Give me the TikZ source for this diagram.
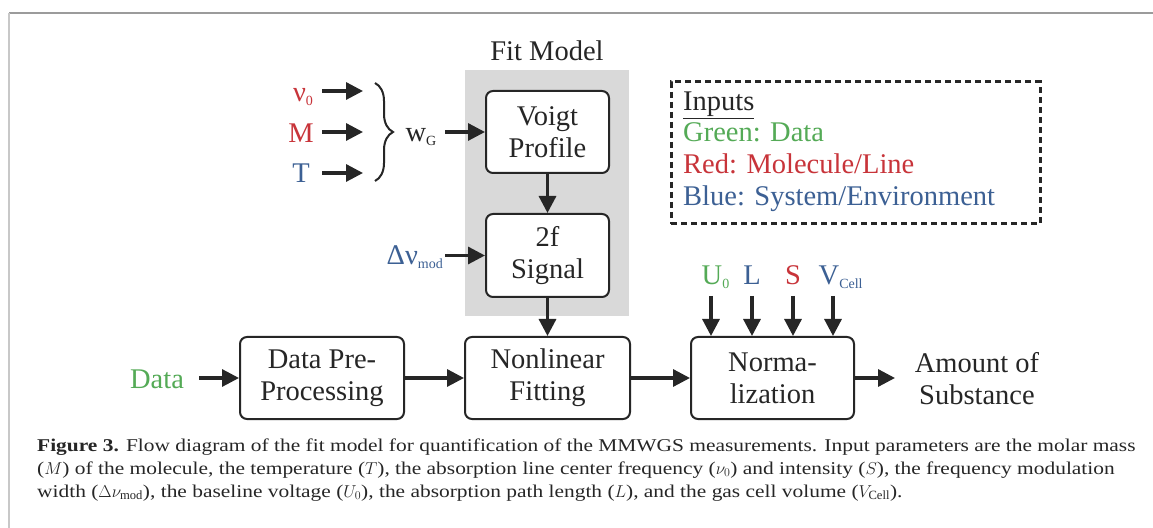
\documentclass[tikz,border=0pt]{standalone}
\usepackage{fontspec}
\setmainfont{Liberation Serif}
\newfontfamily\capfont[FakeStretch=1.19]{Liberation Serif}
\usetikzlibrary{arrows.meta,decorations.pathreplacing}
\definecolor{cgreen}{RGB}{84,170,86}
\definecolor{cred}{RGB}{200,52,58}
\definecolor{cblue}{RGB}{60,96,148}
\definecolor{ink}{RGB}{38,38,38}
\definecolor{fitgray}{RGB}{217,217,217}
\definecolor{frametop}{RGB}{155,155,155}
\definecolor{frameleft}{RGB}{200,200,200}
\newcommand{\lsub}[1]{\raisebox{-4bp}{\fontsize{14bp}{14bp}\selectfont #1}}
\tikzset{
  box/.style={draw=ink, line width=2bp, rounded corners=7bp, fill=white, align=center,
    font=\fontsize{28.5bp}{32bp}\selectfont, text=ink, inner sep=0pt},
  arr/.style={draw=ink, line width=3.2bp, -{Triangle[length=17bp,width=17bp]}},
  lbl/.style={font=\fontsize{28.5bp}{32bp}\selectfont, inner sep=0pt, text=ink},
  capt/.style={font=\capfont\fontsize{18bp}{23bp}\selectfont, inner sep=0pt, text=ink},
}
\begin{document}
\begin{tikzpicture}[x=1bp,y=-1bp]
\useasboundingbox (0,0) rectangle (1153,528);
\fill[white] (0,0) rectangle (1153,528);
% frame
\draw[frametop, line width=1.5bp] (9,13) -- (1153,13);
\draw[frameleft, line width=2bp] (9,13) -- (9,528);

% fit model region
\node[fill=fitgray, minimum width=164bp, minimum height=246bp, inner sep=0pt] (fitbg) at (547,193) {};
\node[lbl, anchor=base] (fittitle) at (547,61) {Fit Model};

% boxes
\node[box, minimum width=123bp, minimum height=82bp] (voigt) at (547.5,132) {Voigt\\Profile};
\node[box, minimum width=123bp, minimum height=83bp] (sig) at (547.5,255.5) {2f\\Signal};
\node[box, minimum width=164bp, minimum height=82bp] (pre) at (322,378) {Data Pre-\\Processing};
\node[box, minimum width=165bp, minimum height=82bp] (fit) at (547.5,378) {Nonlinear\\Fitting};
\node[box, minimum width=163bp, minimum height=82bp] (norm) at (772.5,378) {Norma-\\lization};
\node[lbl, align=center] (amount) at (977,379) {Amount of\\Substance};

% left inputs
\node[lbl, text=cred, anchor=base] (nu0) at (303,102) {ν\lsub{0}};
\node[lbl, text=cred, anchor=base] (M) at (301,143) {M};
\node[lbl, text=cblue, anchor=base] (T) at (301,183) {T};
\coordinate (nu0a) at (322,91);  \coordinate (nu0b) at (363,91);
\coordinate (Ma) at (322,132);   \coordinate (Mb) at (363,132);
\coordinate (Ta) at (322,173);   \coordinate (Tb) at (363,173);
\draw[arr] (nu0a) -- (nu0b);
\draw[arr] (Ma) -- (Mb);
\draw[arr] (Ta) -- (Tb);
\coordinate (bracetop) at (375,83);
\coordinate (bracebot) at (375,181);
\draw[ink, line width=2bp, decorate, decoration={brace, amplitude=18bp}] (bracetop) -- (bracebot);
\node[lbl, anchor=base] (wg) at (421,142) {w\lsub{G}};
\coordinate (wga) at (445,132);
\draw[arr] (wga) -- (voigt.west);

\node[lbl, text=cblue, anchor=base east] (dnu) at (443,265) {Δν\lsub{mod}};
\coordinate (dnua) at (445,255.5);
\draw[arr] (dnua) -- (sig.west);

% fit model chain
\draw[arr] (voigt) -- (sig);
\draw[arr] (sig) -- (fit);

% main row
\node[lbl, text=cgreen, anchor=base] (data) at (157,388) {Data};
\coordinate (dataa) at (199,378);
\draw[arr] (dataa) -- (pre);
\draw[arr] (pre) -- (fit);
\draw[arr] (fit) -- (norm);
\coordinate (outa) at (895,378);
\draw[arr] (norm) -- (outa);

% top inputs of normalization
\node[lbl, text=cgreen, anchor=base] (U0) at (712,285) {U\rlap{\lsub{0}}};
\node[lbl, text=cblue, anchor=base] (L) at (752,285) {L};
\node[lbl, text=cred, anchor=base] (S) at (793,285) {S};
\node[lbl, text=cblue, anchor=base] (V) at (829,285) {V\rlap{\lsub{Cell}}};
\coordinate (u0a) at (711,296);
\coordinate (La) at (752,296);
\coordinate (Sa) at (793,296);
\coordinate (Va) at (833,296);
\draw[arr] (u0a) -- (u0a |- norm.north);
\draw[arr] (La) -- (La |- norm.north);
\draw[arr] (Sa) -- (Sa |- norm.north);
\draw[arr] (Va) -- (Va |- norm.north);

% legend
\node[draw=ink, line width=3bp, dash pattern=on 6bp off 4bp, minimum width=369bp, minimum height=142bp, inner sep=0pt] (inbox) at (855.5,153) {};
\node[lbl, anchor=base west] (inhead) at (683,111) {\underline{Inputs}};
\node[lbl, text=cgreen, anchor=base west] (ingreen) at (683,142) {Green: Data};
\node[lbl, text=cred, anchor=base west] (inred) at (683,174) {Red: Molecule/Line};
\node[lbl, text=cblue, anchor=base west] (inblue) at (683,206) {Blue: System/Environment};

% caption
\node[capt, anchor=base west] (cap1) at (37,451) {\textbf{Figure 3.} Flow diagram of the fit model for quantification of the MMWGS measurements. Input parameters are the molar mass};
\node[capt, anchor=base west] (cap2) at (37,474) {($M$) of the molecule, the temperature ($T$), the absorption line center frequency ($\nu_0$) and intensity ($S$), the frequency modulation};
\node[capt, anchor=base west] (cap3) at (37,497) {width ($\Delta\nu_{\mathrm{mod}}$), the baseline voltage ($U_0$), the absorption path length ($L$), and the gas cell volume ($V_{\mathrm{Cell}}$).};
\end{tikzpicture}
\end{document}
